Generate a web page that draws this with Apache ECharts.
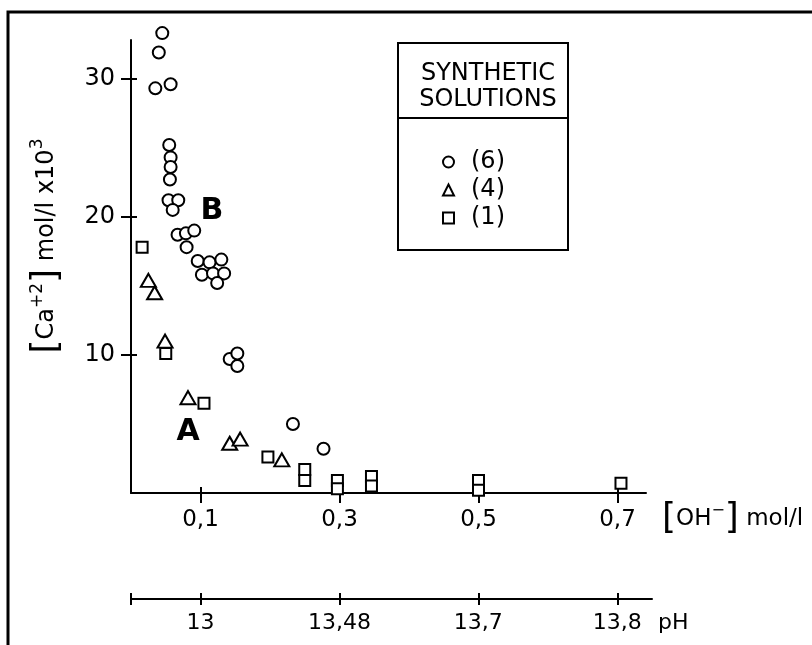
<!DOCTYPE html>
<html>
<head>
    <meta charset="utf-8" />
    <title>Ca+2 vs OH-</title>
    <script src="https://cdn.jsdelivr.net/npm/echarts@6/dist/echarts.min.js"></script>
    <style>
        html, body { margin: 0; padding: 0; background: #fff; }
        #chart1 { width: 812px; height: 645px; }
    </style>
</head>
<body>
    <div id="chart1"></div>
    <script type="text/javascript">
        // [OH-] mol/l , [Ca+2] mol/l x10^3
        var circles6 = [
            [0.045, 33.3], [0.040, 31.9], [0.035, 29.3], [0.057, 29.6],
            [0.055, 25.2], [0.057, 24.3], [0.057, 23.6], [0.056, 22.7],
            [0.054, 21.2], [0.068, 21.2], [0.060, 20.5],
            [0.067, 18.7], [0.079, 18.8], [0.091, 19.0], [0.080, 17.8],
            [0.096, 16.8], [0.113, 16.7], [0.130, 16.9],
            [0.102, 15.8], [0.118, 15.9], [0.134, 15.9], [0.124, 15.2],
            [0.142, 9.7], [0.153, 10.1], [0.153, 9.2],
            [0.233, 5.0], [0.277, 3.2]
        ];
        var triangles4 = [
            [0.025, 15.4], [0.034, 14.5], [0.049, 11.0], [0.082, 6.9],
            [0.142, 3.6], [0.157, 3.9], [0.217, 2.4]
        ];
        var squares1 = [
            [0.016, 17.8], [0.050, 10.1], [0.105, 6.5], [0.197, 2.6],
            [0.250, 1.7], [0.250, 0.9], [0.297, 0.9], [0.297, 0.3],
            [0.346, 1.2], [0.346, 0.5], [0.500, 0.9], [0.500, 0.2],
            [0.705, 0.7]
        ];
        var seriesNames = ['(6)', '(4)', '(1)'];
        var ohTicks = [0.1, 0.3, 0.5, 0.7];
        var ohLabels = ['0,1', '0,3', '0,5', '0,7'];
        var phTicks = [0, 0.1, 0.3, 0.5, 0.7];
        var phLabels = ['', '13', '13,48', '13,7', '13,8'];
        var yTicks = [10, 20, 30];

        var FONT = 'DejaVu Sans';
        var black = '#000';

        function lookup(ticks, labels) {
            return function (v) {
                for (var i = 0; i < ticks.length; i++) {
                    if (Math.abs(ticks[i] - v) < 1e-6) return labels[i];
                }
                return '';
            };
        }

        var myChart1 = echarts.init(document.getElementById('chart1'));

        var hollow = { color: '#fff', borderColor: black, borderWidth: 2, opacity: 1 };

        var option = {
            animation: false,
            backgroundColor: '#fff',
            grid: [
                { left: 131, top: 40, width: 515, height: 453 },
                { left: 131, top: 598, width: 521, height: 1 }
            ],
            xAxis: [
                {
                    gridIndex: 0, type: 'value', min: 0, max: 0.741, position: 'bottom',
                    axisLine: { lineStyle: { color: black, width: 2 } },
                    axisTick: { customValues: ohTicks, length: 10, lineStyle: { color: black, width: 2 } },
                    axisLabel: { customValues: ohTicks, formatter: lookup(ohTicks, ohLabels),
                        color: black, fontSize: 23, fontFamily: FONT, margin: 16 },
                    splitLine: { show: false }
                },
                {
                    gridIndex: 0, type: 'value', min: 0, max: 0.741, position: 'bottom',
                    axisLine: { show: false },
                    axisTick: { customValues: ohTicks, inside: true, length: 6, lineStyle: { color: black, width: 2 } },
                    axisLabel: { show: false },
                    splitLine: { show: false }
                },
                {
                    gridIndex: 1, type: 'value', min: 0, max: 0.75, position: 'bottom',
                    axisLine: { lineStyle: { color: black, width: 2 } },
                    axisTick: { customValues: phTicks, length: 6, lineStyle: { color: black, width: 2 } },
                    axisLabel: { customValues: phTicks, formatter: lookup(phTicks, phLabels),
                        color: black, fontSize: 22, fontFamily: FONT, margin: 13 },
                    splitLine: { show: false }
                },
                {
                    gridIndex: 1, type: 'value', min: 0, max: 0.75, position: 'bottom',
                    axisLine: { show: false },
                    axisTick: { customValues: phTicks, inside: true, length: 6, lineStyle: { color: black, width: 2 } },
                    axisLabel: { show: false },
                    splitLine: { show: false }
                }
            ],
            yAxis: [
                {
                    gridIndex: 0, type: 'value', min: 0, max: 32.8, position: 'left',
                    axisLine: { show: true, lineStyle: { color: black, width: 2 } },
                    axisTick: { show: true, customValues: yTicks, length: 10, lineStyle: { color: black, width: 2 } },
                    axisLabel: { customValues: yTicks, color: black, fontSize: 24, fontFamily: FONT, margin: 16 },
                    splitLine: { show: false }
                },
                {
                    gridIndex: 0, type: 'value', min: 0, max: 32.8, position: 'left', offset: 0,
                    axisLine: { show: false },
                    axisTick: { show: true, customValues: yTicks, inside: true, length: 6, lineStyle: { color: black, width: 2 } },
                    axisLabel: { show: false },
                    splitLine: { show: false }
                },
                {
                    gridIndex: 1, type: 'value', show: false, min: 0, max: 1
                }
            ],
            legend: {
                orient: 'vertical',
                left: 437, top: 145,
                data: seriesNames,
                selectedMode: false,
                itemWidth: 11, itemHeight: 11, itemGap: 4,
                textStyle: { color: black, fontSize: 24, fontFamily: FONT, lineHeight: 24, padding: [0, 0, 0, 12] }
            },
            series: [
                { name: seriesNames[0], type: 'scatter', clip: false, data: circles6,
                    symbol: 'circle', symbolSize: 12, itemStyle: hollow },
                { name: seriesNames[1], type: 'scatter', clip: false, data: triangles4,
                    symbol: 'triangle', symbolSize: [15, 13], itemStyle: hollow },
                { name: seriesNames[2], type: 'scatter', clip: false, data: squares1,
                    symbol: 'rect', symbolSize: 11, itemStyle: hollow }
            ],
            graphic: [
                { type: 'polyline', shape: { points: [[8, 645], [8, 12], [812, 12]] },
                    style: { stroke: black, lineWidth: 3, fill: null } },
                { type: 'rect', shape: { x: 398, y: 43, width: 170, height: 207 },
                    style: { stroke: black, lineWidth: 2, fill: null } },
                { type: 'line', shape: { x1: 398, y1: 118, x2: 568, y2: 118 },
                    style: { stroke: black, lineWidth: 2 } },
                { type: 'text', x: 488, y: 74, style: { text: 'SYNTHETIC', fontSize: 24, fontFamily: FONT,
                    fill: black, align: 'center', verticalAlign: 'middle' } },
                { type: 'text', x: 488, y: 100, style: { text: 'SOLUTIONS', fontSize: 24, fontFamily: FONT,
                    fill: black, align: 'center', verticalAlign: 'middle' } },
                { type: 'text', x: 212, y: 211, style: { text: 'B', fontSize: 30, fontWeight: 'bold', fontFamily: FONT,
                    fill: black, align: 'center', verticalAlign: 'middle' } },
                { type: 'text', x: 188, y: 432, style: { text: 'A', fontSize: 30, fontWeight: 'bold', fontFamily: FONT,
                    fill: black, align: 'center', verticalAlign: 'middle' } },
                { type: 'text', x: 662, y: 519, style: {
                    text: '{b|[}{t|OH}{s|−}{b|]}{t| mol/l}',
                    fill: black, align: 'left', verticalAlign: 'middle',
                    rich: {
                        b: { fontSize: 36, fontFamily: FONT, lineHeight: 40, verticalAlign: 'middle' },
                        t: { fontSize: 23, fontFamily: FONT, verticalAlign: 'middle' },
                        s: { fontSize: 16, fontFamily: FONT, verticalAlign: 'top', padding: [4, 0, 0, 0] }
                    } } },
                { type: 'text', x: 658, y: 623, style: { text: 'pH', fontSize: 22, fontFamily: FONT,
                    fill: black, align: 'left', verticalAlign: 'middle' } },
                { type: 'text', x: 47, y: 246, rotation: Math.PI / 2, style: {
                    text: '{b|[}{t|Ca}{s|+2}{b|]}{t| mol/l x10}{s|3}',
                    fill: black, align: 'center', verticalAlign: 'middle',
                    rich: {
                        b: { fontSize: 36, fontFamily: FONT, lineHeight: 40, verticalAlign: 'middle' },
                        t: { fontSize: 24, fontFamily: FONT, verticalAlign: 'middle' },
                        s: { fontSize: 17, fontFamily: FONT, verticalAlign: 'top', padding: [2, 0, 0, 0] }
                    } } }
            ]
        };
        myChart1.setOption(option);
    </script>
</body>
</html>
